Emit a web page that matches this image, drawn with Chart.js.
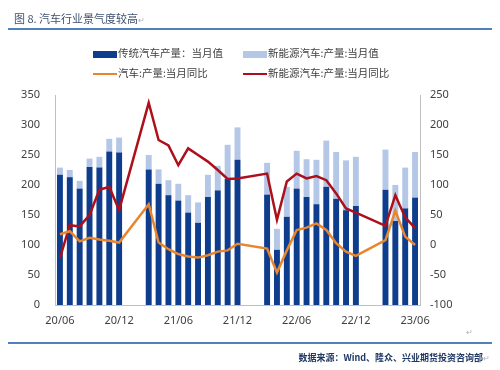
<!DOCTYPE html>
<html>
<head>
<meta charset="utf-8">
<script src="https://cdn.jsdelivr.net/npm/chart.js@4"></script>
<style>
  body { margin: 0; background: #fff; }
  #wrap { position: relative; width: 500px; height: 370px; overflow: hidden; font-family: "Noto Sans CJK SC", "Noto Sans", sans-serif; }
  #c { position: absolute; left: 0; top: 0; }
  .abs { position: absolute; white-space: nowrap; }
  .rule { position: absolute; left: 8px; width: 484px; height: 2px; background: #4f81bd; }
  .mark { color: #b0b0b0; font-size: 8px; }
  .leg { position: absolute; font-size: 10.5px; color: #404040; white-space: nowrap; line-height: 14px; }
  .sw { display: inline-block; width: 24px; vertical-align: middle; margin-right: 1px; }
</style>
</head>
<body>
<div id="wrap">
  <canvas id="c" width="500" height="370"></canvas>
  <div class="abs" style="left:14px; top:10px; font-size:11px; color:#3f4f70;">图 8. 汽车行业景气度较高<span class="mark">↵</span></div>
  <div class="rule" style="top:28px;"></div>

  <div class="leg" style="left:93px; top:46px;"><span class="sw" style="height:7px; background:#0d3d8c;"></span>传统汽车产量：当月值</div>
  <div class="leg" style="left:243px; top:46px;"><span class="sw" style="height:7px; background:#b4c7e7;"></span>新能源汽车:产量:当月值</div>
  <div class="leg" style="left:93px; top:66px;"><span class="sw" style="height:2.5px; background:#e8862f;"></span>汽车:产量:当月同比</div>
  <div class="leg" style="left:243px; top:66px;"><span class="sw" style="height:2.5px; background:#ad0f1b;"></span>新能源汽车:产量:当月同比</div>

  <div class="abs mark" style="left:466px; top:326px;">↵</div>
  <div class="rule" style="top:342px;"></div>
  <div class="abs" style="right:10px; top:351px; font-size:9px; font-weight:bold; color:#1f3864;">数据来源：Wind、隆众、兴业期货投资咨询部<span class="mark" style="font-weight:normal;">↵</span></div>
</div>
<script>
// months 2020/06 .. 2023/06, Jan/Feb have no data
const months = [
  '20/06','20/07','20/08','20/09','20/10','20/11','20/12',
  '21/01','21/02','21/03','21/04','21/05','21/06','21/07','21/08','21/09','21/10','21/11','21/12',
  '22/01','22/02','22/03','22/04','22/05','22/06','22/07','22/08','22/09','22/10','22/11','22/12',
  '23/01','23/02','23/03','23/04','23/05','23/06'
];

// 传统汽车产量 当月值 (万辆)
const tradProd = [
  217, 213, 194, 230, 229, 256, 254,
  null, null, 226, 202, 183, 174, 154, 137, 180, 191, 210, 242,
  null, null, 184, 92, 147, 194, 180, 168, 197, 177, 158, 165,
  null, null, 192, 140, 161, 179
];

// 新能源汽车产量 当月值 (万辆)
const nevProd = [
  12, 12, 13, 14, 18, 21, 25,
  null, null, 24, 24, 25, 28, 29, 34, 37, 41, 57, 54,
  null, null, 53, 35, 50, 63, 63, 74, 77, 78, 83, 82,
  null, null, 67, 60, 68, 76
];

// 汽车产量 当月同比 (%)
const autoYoY = [
  18, 23, 6, 12, 9, 7, 4,
  null, null, 68, 4, -7, -15, -19, -21, -17, -11, -9, 2,
  null, null, -6, -46, -9, 25, 29, 36, 25, 3, -11, -18,
  null, null, 8, 57, 14, 0
];

// 新能源汽车产量 当月同比 (%)
const nevYoY = [
  -22, 33, 31, 50, 92, 97, 58,
  null, null, 237, 175, 166, 133, 161, 150, 139, 125, 110, 111,
  null, null, 119, 42, 106, 119, 111, 115, 108, 86, 61, 54,
  null, null, 32, 83, 46, 28
];

const tickFont = { family: "'Noto Sans', 'Open Sans', sans-serif", size: 11 };
const tickColor = '#404040';
const axisLine = '#c0c0c0';

new Chart(document.getElementById('c'), {
  type: 'bar',
  data: {
    labels: months,
    datasets: [
      { type: 'line', label: '汽车:产量:当月同比', data: autoYoY, yAxisID: 'y1',
        borderColor: '#e8862f', borderWidth: 2.5, pointRadius: 0, spanGaps: true, order: 0 },
      { type: 'line', label: '新能源汽车:产量:当月同比', data: nevYoY, yAxisID: 'y1',
        borderColor: '#ad0f1b', borderWidth: 2.5, pointRadius: 0, spanGaps: true, order: 0 },
      { label: '传统汽车产量：当月值', data: tradProd, backgroundColor: '#0d3d8c',
        yAxisID: 'y', stack: 's', barPercentage: 0.6, categoryPercentage: 1, order: 1 },
      { label: '新能源汽车:产量:当月值', data: nevProd, backgroundColor: '#b4c7e7',
        yAxisID: 'y', stack: 's', barPercentage: 0.6, categoryPercentage: 1, order: 1 }
    ]
  },
  options: {
    responsive: false,
    animation: false,
    devicePixelRatio: 1,
    layout: { padding: { top: 95, bottom: 35, left: 0, right: 0 } },
    plugins: { legend: { display: false }, tooltip: { enabled: false } },
    scales: {
      x: {
        stacked: true,
        grid: { display: false, drawTicks: false },
        border: { display: true, color: axisLine },
        ticks: {
          autoSkip: false, maxRotation: 0, padding: 9,
          font: tickFont, color: tickColor,
          callback: (v, i) => (i % 6 === 0 ? months[i] : '')
        },
        afterFit: s => { s.height = 30; }
      },
      y: {
        position: 'left', stacked: true, min: 0, max: 350,
        grid: { display: false, drawTicks: false },
        border: { display: true, color: axisLine },
        ticks: { stepSize: 50, padding: 15, font: tickFont, color: tickColor },
        afterFit: s => { s.width = 55; }
      },
      y1: {
        position: 'right', min: -100, max: 250,
        grid: { display: false, drawTicks: false },
        border: { display: true, color: axisLine },
        ticks: { stepSize: 50, padding: 10, font: tickFont, color: tickColor },
        afterFit: s => { s.width = 80; }
      }
    }
  }
});
</script>
</body>
</html>
